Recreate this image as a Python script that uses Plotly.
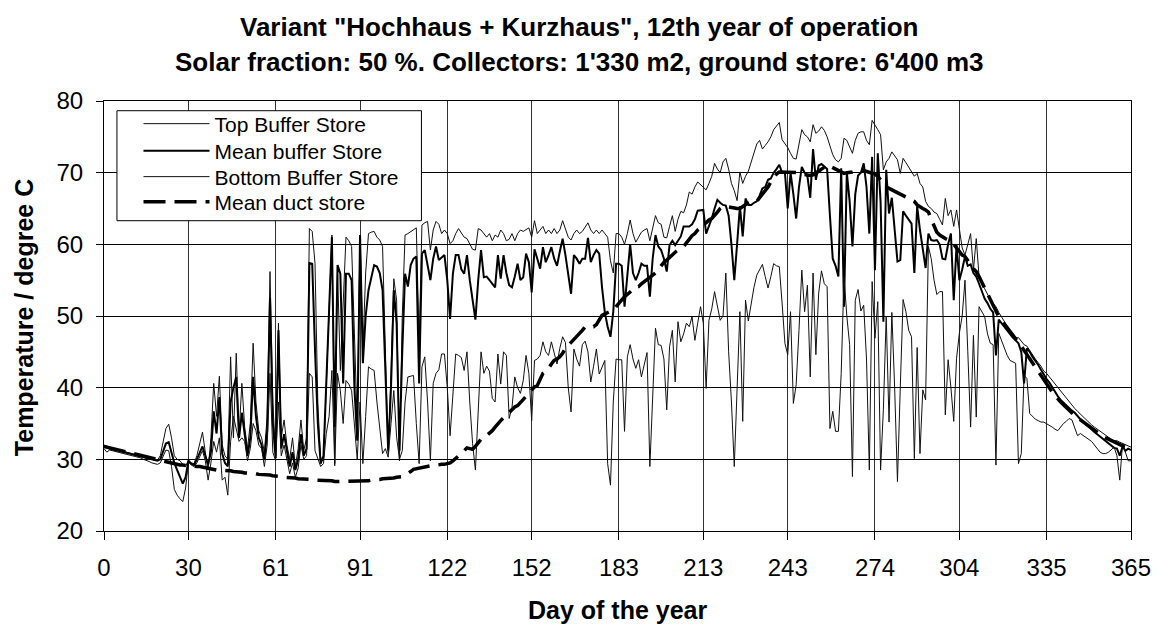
import plotly.graph_objects as go

days = list(range(366))

top_buffer = [
    32.0, 31.8, 31.6, 31.5, 31.4, 31.3, 31.2, 31.1, 31.0, 30.9,
    30.8, 30.7, 30.6, 30.5, 30.4, 30.3, 30.2, 30.1, 30.0, 29.9,
    30.5, 32.5, 34.3, 34.9, 33.0, 30.5, 30.0, 29.8, 29.3, 29.0,
    29.9, 29.5, 29.4, 30.5, 32.0, 33.8, 31.0, 28.5, 33.0, 40.6,
    36.0, 41.6, 32.0, 30.5, 30.0, 44.3, 33.0, 44.8, 33.5, 40.6,
    34.5, 31.5, 35.0, 46.2, 38.0, 34.0, 33.0, 31.0, 36.0, 56.2,
    38.0, 30.5, 49.0, 33.0, 35.5, 32.0, 30.0, 33.0, 29.0, 31.5,
    35.5, 31.2, 33.0, 62.2, 61.8, 57.3, 37.8, 30.0, 29.8, 40.6,
    52.0, 61.3, 29.4, 56.4, 42.4, 52.0, 61.0, 60.5, 59.7, 47.6,
    35.0, 61.3, 45.2, 56.0, 61.5, 61.7, 61.8, 61.0, 60.6, 59.7,
    45.0, 30.8, 42.0, 55.2, 52.2, 29.8, 50.0, 61.3, 61.5, 61.8,
    62.0, 62.3, 46.2, 62.7, 63.0, 63.2, 59.2, 62.0, 63.2, 62.8,
    61.5, 62.0, 61.5, 60.1, 60.5, 61.5, 62.2, 61.5, 61.0, 60.8,
    60.0, 59.3, 59.2, 62.2, 62.0, 61.5, 61.0, 61.5, 60.5, 61.3,
    61.0, 62.0, 61.5, 60.5, 60.7, 61.5, 60.5, 61.5, 62.0, 61.8,
    62.0, 62.3, 61.0, 63.3, 61.5, 62.0, 62.5, 61.5, 62.0, 61.5,
    62.2, 61.5, 62.0, 63.3, 62.0, 61.0, 60.6, 61.5, 62.0, 61.5,
    61.8, 62.5, 63.0, 62.0, 61.5, 62.0, 61.5, 62.0, 61.5, 61.0,
    57.7, 56.0, 61.5, 61.5, 61.0, 60.0, 61.5, 63.4, 61.5, 60.3,
    61.0, 61.7, 62.0, 62.2, 60.5, 62.5, 64.0, 63.0, 62.8, 61.0,
    60.9, 62.5, 64.0, 61.8, 63.5, 64.6, 64.4, 65.5, 67.3, 67.0,
    68.0, 68.7, 68.3, 68.0, 67.6, 68.5, 69.5, 71.3, 70.5, 70.0,
    71.5, 72.0, 70.5, 68.5, 67.5, 66.1, 70.1, 68.5, 69.5, 70.2,
    71.5, 73.0, 74.0, 74.5, 73.3, 73.8, 74.3, 75.0, 76.0, 76.5,
    77.0, 74.6, 74.0, 73.5, 72.7, 72.0, 71.9, 74.0, 76.0, 75.3,
    75.0, 74.3, 76.7, 75.5, 75.8, 76.4, 75.9, 75.0, 73.6, 72.5,
    71.8, 71.5, 72.0, 74.8, 74.5, 73.5, 72.7, 74.5, 75.5, 75.7,
    75.7, 74.5, 73.9, 77.3, 76.7, 76.0, 75.3, 70.4, 71.5, 72.0,
    72.9, 72.3, 71.8, 69.9, 72.0, 71.4, 70.8, 70.2, 69.5, 69.9,
    68.5, 68.0, 66.0, 65.3, 65.0, 64.5, 64.3, 63.5, 62.7, 66.4,
    64.0, 64.8, 62.5, 64.8, 61.8, 59.5, 58.5, 60.0, 61.5, 56.4,
    60.8, 55.5, 54.5, 53.8, 53.0, 52.3, 51.8, 51.3, 50.5, 49.8,
    49.2, 48.6, 48.0, 47.5, 46.9, 47.0, 46.5, 46.0, 45.8, 45.2,
    44.5, 44.0, 43.5, 43.0, 42.3, 42.0, 41.5, 41.0, 40.5, 40.0,
    39.5, 39.0, 38.5, 38.0, 37.5, 37.1, 36.7, 36.3, 35.9, 35.5,
    35.1, 34.8, 34.5, 34.2, 33.9, 33.6, 33.3, 33.0, 32.8, 32.6,
    32.6, 32.4, 32.2, 32.0, 31.9, 31.7,
]

mean_buffer = [
    31.8, 31.6, 31.5, 31.4, 31.3, 31.2, 31.1, 31.0, 30.9, 30.8,
    30.7, 30.6, 30.5, 30.4, 30.3, 30.2, 30.1, 30.0, 29.8, 29.8,
    30.0, 31.2, 32.2, 32.4, 31.0, 29.5, 28.5, 27.5, 26.6, 27.5,
    29.8, 29.4, 29.2, 30.0, 31.0, 31.8, 30.5, 29.3, 31.0, 36.7,
    33.6, 38.7, 30.8, 29.5, 29.0, 38.0, 40.0, 41.5, 33.0, 36.5,
    33.5, 30.5, 33.0, 41.5, 36.0, 33.0, 32.0, 30.0, 34.0, 52.5,
    35.0, 30.2, 48.0, 31.5, 33.5, 31.5, 29.0, 31.0, 28.5, 30.0,
    33.5, 30.5, 31.5, 57.4, 57.3, 45.2, 35.0, 29.4, 30.5, 40.6,
    50.0, 61.0, 34.5, 57.1, 55.9, 40.6, 55.9, 55.9, 55.0, 40.0,
    32.6, 61.3, 43.4, 50.0, 53.6, 55.5, 57.1, 56.9, 56.0, 53.6,
    42.0, 31.2, 40.0, 53.6, 49.0, 31.2, 45.0, 55.9, 54.1, 57.1,
    58.0, 58.3, 40.6, 58.7, 59.2, 57.0, 55.0, 58.0, 59.7, 57.8,
    58.2, 58.5, 55.0, 49.6, 55.9, 58.5, 58.5, 56.5, 55.9, 58.5,
    55.0, 52.2, 49.5, 55.0, 59.2, 55.4, 55.5, 55.0, 54.5, 54.0,
    58.5, 55.2, 58.5, 56.0, 54.3, 54.0, 55.5, 57.3, 55.0, 55.4,
    58.7, 57.5, 53.3, 59.3, 58.0, 56.6, 59.6, 57.5, 58.5, 59.6,
    58.0, 57.0, 59.0, 60.8, 58.5, 56.0, 53.1, 58.5, 58.0, 57.3,
    58.0, 58.0, 60.9, 57.5, 58.5, 59.2, 58.7, 54.0, 50.5, 48.5,
    47.1, 50.6, 57.3, 57.3, 57.0, 51.3, 56.0, 60.0, 56.0, 55.0,
    56.0, 57.3, 57.0, 57.0, 52.7, 58.0, 61.3, 59.7, 59.2, 58.0,
    56.2, 59.9, 60.5, 59.9, 60.5, 61.1, 62.5, 62.5, 62.5, 62.8,
    63.5, 64.7, 64.8, 64.8, 61.5, 62.5, 63.6, 65.0, 66.2, 65.8,
    65.5, 65.4, 64.0, 60.0, 55.0, 60.0, 65.3, 61.1, 66.4, 65.5,
    65.5, 65.8, 66.0, 66.8, 67.8, 68.0, 69.0, 69.2, 70.0, 70.5,
    71.1, 70.0, 70.0, 65.0, 70.0, 67.0, 63.6, 68.0, 70.8, 70.0,
    69.5, 66.5, 73.3, 69.0, 71.0, 71.2, 70.8, 70.5, 64.0, 58.0,
    57.0, 55.5, 70.6, 51.3, 70.0, 66.0, 59.7, 67.0, 69.6, 70.0,
    71.3, 68.0, 61.5, 72.2, 56.4, 72.7, 66.0, 49.2, 70.4, 64.3,
    66.5, 62.0, 57.6, 57.8, 64.6, 64.0, 63.5, 62.9, 56.0, 65.3,
    62.0, 59.0, 56.7, 61.5, 60.6, 60.5, 60.6, 60.0, 58.0, 57.9,
    60.0, 61.5, 52.2, 59.9, 55.0, 56.5, 58.3, 57.0, 57.2, 56.0,
    55.5, 54.5, 53.5, 52.4, 51.8, 51.0, 50.5, 44.5, 49.5, 49.0,
    48.4, 47.9, 47.5, 47.0, 46.6, 46.2, 45.0, 40.6, 45.5, 45.0,
    44.3, 43.8, 43.2, 42.5, 41.8, 41.2, 40.7, 40.0, 39.4, 38.8,
    38.3, 37.9, 37.5, 37.1, 36.8, 36.5, 36.0, 35.6, 35.2, 34.9,
    34.5, 34.2, 33.8, 33.5, 33.2, 32.8, 32.5, 32.2, 31.9, 31.6,
    31.5, 30.5, 31.8, 31.2, 31.5, 31.3,
]

bottom_buffer = [
    31.5, 31.0, 31.3, 31.2, 31.1, 31.0, 30.9, 30.8, 30.7, 30.6,
    30.5, 30.4, 30.3, 30.2, 30.0, 29.9, 29.7, 29.5, 29.4, 29.3,
    29.5, 30.5, 31.3, 31.2, 29.0, 25.8, 25.0, 24.5, 24.1, 26.0,
    29.6, 29.2, 29.0, 29.5, 30.3, 31.2, 29.8, 27.1, 29.5, 32.5,
    31.0, 33.0, 27.1, 27.5, 25.0, 32.5, 36.0, 34.0, 32.5, 33.0,
    32.5, 29.8, 31.5, 35.0, 34.0, 32.0, 31.5, 29.0, 32.0, 42.0,
    31.0, 29.8, 38.0, 30.5, 32.0, 30.0, 28.0, 29.5, 27.5, 28.8,
    32.0, 30.0, 30.5, 42.0, 41.5, 31.2, 30.0, 29.0, 29.4, 33.6,
    36.0, 42.4, 29.1, 42.0, 39.6, 35.0, 41.0, 40.5, 39.6, 34.5,
    30.0, 38.0, 29.4, 36.0, 42.9, 42.6, 42.4, 38.0, 34.0, 30.8,
    31.5, 30.3, 35.0, 39.6, 33.1, 30.0, 31.2, 38.0, 41.5, 41.6,
    41.7, 35.0, 29.4, 42.9, 44.3, 38.0, 29.8, 40.6, 42.0, 42.5,
    44.7, 44.7, 40.0, 33.3, 38.9, 44.7, 44.5, 44.2, 42.4, 45.0,
    38.0, 32.2, 28.5, 37.0, 45.0, 42.0, 43.0, 42.3, 38.5, 38.0,
    44.7, 40.5, 45.0, 44.5, 35.7, 37.2, 41.5, 40.0, 39.2, 41.0,
    44.5, 42.0, 35.4, 43.8, 44.0, 44.5, 46.4, 45.0, 44.5, 46.4,
    45.0, 43.3, 45.5, 47.1, 46.3, 40.0, 36.6, 45.4, 44.0, 43.0,
    46.0, 46.5, 45.0, 40.8, 43.0, 45.4, 41.9, 43.0, 43.8, 29.4,
    26.4, 38.0, 44.0, 43.9, 43.9, 33.9, 44.3, 46.0, 44.0, 42.7,
    43.9, 41.5, 43.0, 44.9, 29.0, 40.0, 48.3, 46.0, 45.9, 44.0,
    36.9, 45.7, 48.0, 40.8, 49.2, 46.4, 47.5, 49.0, 48.5, 49.9,
    46.6, 49.0, 51.3, 49.0, 39.9, 49.4, 51.0, 53.4, 51.5, 49.4,
    50.0, 56.0, 45.0, 38.0, 29.0, 40.0, 50.6, 35.3, 52.2, 49.3,
    52.0, 54.0, 55.7, 56.5, 57.2, 55.5, 53.9, 55.5, 57.3, 57.0,
    56.9, 51.8, 46.2, 44.6, 50.6, 37.8, 40.4, 48.0, 56.4, 50.6,
    54.3, 41.5, 56.0, 44.6, 53.2, 56.3, 54.5, 54.1, 34.3, 36.7,
    33.9, 33.9, 42.0, 55.5, 50.0, 46.0, 27.6, 52.2, 53.7, 50.7,
    51.5, 44.0, 28.5, 54.8, 46.9, 52.0, 28.5, 37.0, 50.0, 35.2,
    50.5, 40.0, 26.9, 40.0, 52.3, 50.6, 48.0, 47.1, 30.1, 45.6,
    30.8, 39.7, 38.3, 59.7, 58.0, 55.0, 53.0, 53.4, 53.4, 36.2,
    43.9, 40.0, 35.3, 44.1, 47.6, 50.0, 55.0, 45.0, 34.5, 47.3,
    35.9, 51.3, 50.5, 49.9, 47.5, 46.2, 46.0, 29.2, 47.6, 46.5,
    45.5, 44.5, 43.8, 43.6, 43.4, 29.4, 30.8, 41.7, 41.3, 36.4,
    36.0, 35.6, 35.4, 35.2, 35.2, 35.0, 34.8, 34.5, 34.2, 34.0,
    34.5, 35.0, 35.3, 35.7, 35.5, 34.3, 33.3, 33.6, 33.3, 33.1,
    32.8, 32.5, 32.0, 31.5, 31.0, 30.8, 30.8, 31.0, 31.3, 31.7,
    30.5, 27.1, 32.2, 31.0, 29.8, 29.8,
]

mean_duct = [
    31.8, 31.7, 31.6, 31.5, 31.4, 31.3, 31.2, 31.1, 31.0, 30.9,
    30.8, 30.7, 30.6, 30.5, 30.4, 30.3, 30.2, 30.1, 30.0, 29.9,
    29.8, 29.7, 29.6, 29.5, 29.4, 29.3, 29.3, 29.2, 29.2, 29.1,
    29.1, 29.1, 29.0, 29.0, 29.0, 28.9, 28.8, 28.7, 28.6, 28.6,
    28.5, 28.5, 28.5, 28.4, 28.4, 28.4, 28.3, 28.3, 28.2, 28.2,
    28.1, 28.1, 28.0, 28.0, 28.0, 27.9, 27.9, 27.9, 27.8, 27.8,
    27.7, 27.7, 27.6, 27.6, 27.5, 27.5, 27.4, 27.4, 27.4, 27.3,
    27.3, 27.3, 27.2, 27.2, 27.2, 27.1, 27.1, 27.1, 27.0, 27.0,
    27.0, 27.0, 26.9, 26.9, 26.9, 26.9, 26.9, 26.9, 26.9, 26.9,
    26.9, 26.9, 26.9, 27.0, 27.0, 27.1, 27.1, 27.2, 27.2, 27.3,
    27.3, 27.4, 27.4, 27.4, 27.5, 27.5, 27.6, 27.8, 28.0, 28.3,
    28.6, 28.7, 28.8, 28.9, 29.0, 29.0, 29.1, 29.1, 29.2, 29.2,
    29.3, 29.3, 29.4, 29.5, 29.8, 30.1, 30.5, 30.8, 31.2, 31.6,
    31.5, 31.4, 31.8, 32.3, 32.8, 33.0, 33.3, 33.6, 34.0, 34.5,
    35.0, 35.4, 35.8, 36.2, 36.6, 37.0, 37.3, 37.5, 37.9, 38.3,
    38.7, 39.2, 39.7, 40.1, 40.3, 41.3, 42.0, 42.3, 42.7, 43.3,
    43.8, 44.0, 44.3, 44.8, 45.5, 45.9, 46.3, 46.7, 47.1, 47.5,
    48.0, 48.5, 48.5, 48.5, 48.5, 48.8, 49.5, 50.1, 50.3, 50.5,
    50.6, 50.8, 51.3, 51.8, 52.3, 52.7, 53.0, 53.3, 53.7, 54.1,
    54.1, 54.5, 54.8, 55.2, 55.5, 55.7, 56.0, 56.5, 57.0, 57.5,
    57.8, 58.2, 58.6, 58.9, 59.2, 59.5, 59.7, 60.2, 60.7, 61.2,
    61.5, 62.0, 62.3, 62.8, 63.0, 63.4, 63.6, 64.0, 64.5, 65.0,
    65.3, 65.3, 65.2, 65.2, 65.1, 65.0, 65.0, 65.3, 65.6, 65.8,
    66.0, 66.0, 66.0, 66.5, 67.0, 67.5, 68.0, 68.7, 69.3, 69.8,
    70.1, 70.1, 70.1, 70.0, 70.0, 70.0, 70.0, 70.0, 69.8, 69.7,
    69.6, 69.6, 69.7, 69.9, 70.2, 70.5, 70.8, 71.0, 70.9, 70.7,
    70.4, 70.2, 70.0, 69.9, 70.0, 70.0, 70.1, 70.2, 70.3, 70.3,
    70.3, 70.2, 70.1, 70.0, 69.8, 69.5, 69.0, 68.5, 68.0, 67.8,
    67.6, 67.4, 67.2, 67.0, 66.8, 66.6, 66.4, 66.2, 66.0, 65.5,
    65.2, 65.0, 64.8, 64.5, 63.5, 62.5, 61.7, 61.3, 61.0, 60.8,
    60.6, 60.4, 60.0, 59.5, 59.0, 58.5, 58.3, 57.8, 57.2, 56.6,
    56.2, 55.5, 54.7, 53.9, 53.1, 52.3, 51.5, 50.7, 49.9, 49.4,
    48.9, 48.4, 47.9, 47.4, 46.9, 46.4, 45.8, 45.2, 44.6, 44.0,
    43.4, 42.8, 42.2, 41.6, 41.0, 40.4, 39.9, 39.4, 38.9, 38.4,
    38.0, 37.6, 37.2, 36.8, 36.4, 36.1, 35.8, 35.5, 35.2, 34.9,
    34.6, 34.3, 34.0, 33.7, 33.4, 33.2, 33.0, 32.8, 32.6, 32.4,
    32.2, 32.0, 31.9, 31.8, 31.7, 31.7,
]

x_tick_vals = [0, 30, 61, 91, 122, 152, 183, 213, 243, 274, 304, 335, 365]
y_tick_vals = [20, 30, 40, 50, 60, 70, 80]

title_line1 = 'Variant "Hochhaus + Kurzhaus", 12th year of operation'
title_line2 = "Solar fraction: 50 %. Collectors: 1'330 m2, ground store: 6'400 m3"
x_title = "Day of the year"
y_title = "Temperature / degree C"

FONT = "Liberation Sans, Arial, sans-serif"
LEG_X = 0.0336
LEG_FONT = dict(family=FONT, size=21, color="black")


def leg(yc):
    return dict(x=LEG_X, y=yc, xanchor="left", yanchor="middle",
                borderwidth=0, bgcolor="rgba(0,0,0,0)", font=LEG_FONT,
                itemwidth=66, tracegroupgap=0)


fig = go.Figure()
fig.add_trace(go.Scatter(x=days, y=top_buffer, mode="lines", name="Top Buffer Store",
                         line=dict(color="#111111", width=1), legend="legend"))
fig.add_trace(go.Scatter(x=days, y=mean_buffer, mode="lines", name="Mean buffer Store",
                         line=dict(color="#000000", width=2), legend="legend2"))
fig.add_trace(go.Scatter(x=days, y=bottom_buffer, mode="lines", name="Bottom Buffer Store",
                         line=dict(color="#111111", width=1), legend="legend3"))
fig.add_trace(go.Scatter(x=days, y=mean_duct, mode="lines", name="Mean duct store",
                         line=dict(color="#000000", width=3.5, dash="22px,9px"), legend="legend4"))

fig.update_layout(
    width=1163, height=625,
    margin=dict(l=104, r=29, t=101, b=94, pad=0),
    paper_bgcolor="white", plot_bgcolor="white",
    font=dict(family=FONT, color="black", size=24),
    showlegend=True,
    legend=leg(0.9465),
    legend2=leg(0.8837),
    legend3=leg(0.8233),
    legend4=leg(0.7651),
    xaxis=dict(range=[0, 365], tickmode="array", tickvals=x_tick_vals,
               ticktext=[str(v) for v in x_tick_vals],
               showgrid=True, gridcolor="#333333", gridwidth=1,
               showline=True, linecolor="black", linewidth=1, mirror=True,
               ticks="outside", ticklen=8, tickcolor="black",
               tickfont=dict(family=FONT, size=24), zeroline=False,
               ticklabelstandoff=7),
    yaxis=dict(range=[20, 80], tickmode="array", tickvals=y_tick_vals,
               showgrid=True, gridcolor="#000000", gridwidth=1,
               showline=True, linecolor="black", linewidth=1, mirror=True,
               ticks="outside", ticklen=7, tickcolor="black",
               tickfont=dict(family=FONT, size=24), zeroline=False,
               ticklabelstandoff=8),
    shapes=[
        dict(type="rect", xref="paper", yref="paper",
             x0=0.0126, x1=0.3091, y0=0.7216, y1=0.9774,
             line=dict(color="black", width=1), fillcolor="white", layer="above"),
    ],
    annotations=[
        dict(text="<b>" + title_line1 + "</b>", xref="paper", yref="paper",
             x=0.4628, y=1.172, xanchor="center", yanchor="middle", showarrow=False,
             font=dict(family=FONT, size=26, color="black")),
        dict(text="<b>" + title_line2 + "</b>", xref="paper", yref="paper",
             x=0.4628, y=1.0907, xanchor="center", yanchor="middle", showarrow=False,
             font=dict(family=FONT, size=26, color="black")),
        dict(text="<b>" + x_title + "</b>", xref="paper", yref="paper",
             x=0.5, y=-0.183, xanchor="center", yanchor="middle", showarrow=False,
             font=dict(family=FONT, size=25, color="black")),
        dict(text="<b>" + y_title + "</b>", xref="paper", yref="paper",
             x=-0.078, y=0.497, xanchor="center", yanchor="middle", showarrow=False,
             textangle=-90, font=dict(family=FONT, size=25, color="black")),
    ],
)

fig.write_html("out.html", config={"displayModeBar": False},
               post_script="document.body.style.margin='0';document.body.style.overflow='hidden';")
